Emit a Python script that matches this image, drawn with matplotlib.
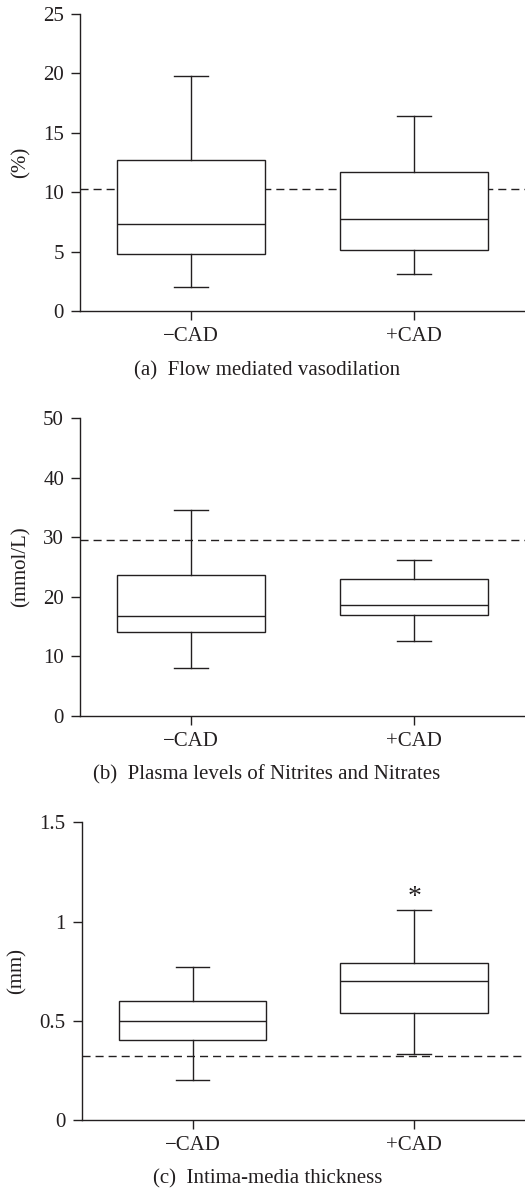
import matplotlib
matplotlib.use("Agg")
import matplotlib.pyplot as plt

plt.rcParams['font.family'] = ['Liberation Serif', 'DejaVu Serif']

groups = ["\u2212CAD", "+CAD"]

# five-number summaries: low whisker, Q1, median, Q3, high whisker
fmd_low = [2.0, 3.1]
fmd_q1 = [4.8, 5.1]
fmd_med = [7.3, 7.7]
fmd_q3 = [12.7, 11.7]
fmd_high = [19.8, 16.4]
fmd_ref = 10.3

nox_low = [8.0, 12.6]
nox_q1 = [14.1, 17.0]
nox_med = [16.8, 18.6]
nox_q3 = [23.7, 23.0]
nox_high = [34.6, 26.1]
nox_ref = 29.6

imt_low = [0.20, 0.33]
imt_q1 = [0.40, 0.54]
imt_med = [0.50, 0.70]
imt_q3 = [0.60, 0.79]
imt_high = [0.77, 1.06]
imt_ref = 0.32
imt_star_y = 1.12

ink = "#231f20"


def make_stats(low, q1, med, q3, high):
    stats = []
    for i in range(len(groups)):
        stats.append(dict(whislo=low[i], q1=q1[i], med=med[i], q3=q3[i],
                          whishi=high[i], fliers=[], label=groups[i]))
    return stats


def draw_panel(ax, stats, ref, ymax, yticks, yticklabels, ylabel, caption):
    props = dict(color=ink, linewidth=1.0)
    ax.bxp(stats, positions=[1, 2], widths=0.667, showfliers=False,
           patch_artist=True,
           boxprops=dict(facecolor='white', edgecolor=ink, linewidth=1.0),
           whiskerprops=props, capprops=props,
           medianprops=props, capwidths=0.153, zorder=3)
    ax.axhline(ref, color=ink, linewidth=1.0, linestyle=(0, (5.8, 3.6)), zorder=2)
    ax.set_xlim(0.5, 2.5)
    ax.set_ylim(0, ymax)
    ax.set_yticks(yticks)
    ax.set_yticklabels(yticklabels)
    ax.set_xticks([1, 2])
    ax.set_xticklabels(groups)
    ax.spines['top'].set_visible(False)
    ax.spines['right'].set_visible(False)
    for s in ['left', 'bottom']:
        ax.spines[s].set_color(ink)
        ax.spines[s].set_linewidth(1.0)
    ax.tick_params(direction='out', length=6.5, width=1.0, colors=ink,
                   labelsize=15, pad=5)
    ax.set_ylabel(ylabel, fontsize=15, color=ink, labelpad=9)
    ax.text(0.42, -0.2, caption, transform=ax.transAxes, ha='center',
            va='center', fontsize=15, color=ink)


fig = plt.figure(figsize=(5.25, 11.91), dpi=100)

ax1 = fig.add_axes([0.1524, 0.7389, 0.8476, 0.2494])
draw_panel(ax1, make_stats(fmd_low, fmd_q1, fmd_med, fmd_q3, fmd_high), fmd_ref,
           25, [0, 5, 10, 15, 20, 25], ["0", "5", "10", "15", "20", "25"],
           "(%)", "(a)  Flow mediated vasodilation")

ax2 = fig.add_axes([0.1524, 0.3991, 0.8476, 0.2497])
draw_panel(ax2, make_stats(nox_low, nox_q1, nox_med, nox_q3, nox_high), nox_ref,
           50, [0, 10, 20, 30, 40, 50], ["0", "10", "20", "30", "40", "50"],
           "(mmol/L)", "(b)  Plasma levels of Nitrites and Nitrates")

ax3 = fig.add_axes([0.1556, 0.0598, 0.8444, 0.2497])
draw_panel(ax3, make_stats(imt_low, imt_q1, imt_med, imt_q3, imt_high), imt_ref,
           1.5, [0, 0.5, 1, 1.5], ["0", "0.5", "1", "1.5"],
           "(mm)", "(c)  Intima-media thickness")
ax3.text(2, imt_star_y, "*", ha='center', va='center', fontsize=20, color=ink)

fig.savefig("out.png", dpi=100)
